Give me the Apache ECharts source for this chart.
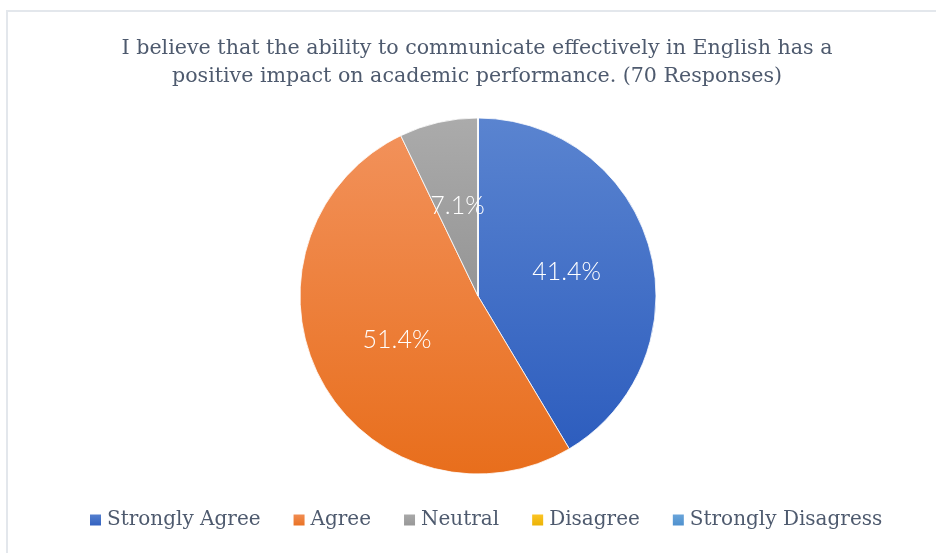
<!DOCTYPE html>
<html><head><meta charset="utf-8">
<script src="https://cdn.jsdelivr.net/npm/echarts@6/dist/echarts.min.js"></script>
<style>html,body{margin:0;padding:0;background:#fff;}#c{width:936px;height:553px;}</style>
</head><body><div id="c"></div>
<script>
const titleText = "I believe that the ability to communicate effectively in English has a\npositive impact on academic performance. (70 Responses)";
const categories = ["Strongly Agree", "Agree", "Neutral", "Disagree", "Strongly Disagress"];
const counts = [29, 36, 5, 0, 0];
const colorsTop = ["#5a84d0", "#f2915a", "#ababab", "#ffc72a", "#6ea8dc"];
const colorsBottom = ["#2d5dbe", "#e86e1c", "#959595", "#e8b000", "#4a8dcc"];

const total = counts.reduce((a, b) => a + b, 0);
const chart = echarts.init(document.getElementById('c'), null, {renderer: 'canvas'});
const grad = i => new echarts.graphic.LinearGradient(0, 0, 0, 1, [
  {offset: 0, color: colorsTop[i]}, {offset: 1, color: colorsBottom[i]}
]);
const data = categories.map((name, i) => ({
  name: name,
  value: counts[i],
  itemStyle: {color: grad(i)},
  label: {show: counts[i] > 0}
}));
const serif = 'DejaVu Serif';
chart.setOption({
  backgroundColor: '#ffffff',
  animation: false,
  graphic: [{
    type: 'rect', shape: {x: 7, y: 11, width: 960, height: 600},
    style: {fill: 'none', stroke: '#e3e7ec', lineWidth: 2}, silent: true
  }],
  title: {
    text: titleText, left: 472, top: 30, textAlign: 'center',
    textStyle: {fontFamily: serif, fontWeight: 'normal', fontSize: 20.6, color: '#4e5a6e', lineHeight: 28}
  },
  legend: {
    data: categories.map((n, i) => ({name: n, itemStyle: {color: grad(i)}})),
    bottom: 18, left: 83, icon: 'rect', itemWidth: 13, itemHeight: 13, itemGap: 31,
    textStyle: {fontFamily: serif, fontSize: 20, color: '#4e5a6e'}
  },
  series: [{
    type: 'pie', center: [478, 296], radius: 178, startAngle: 90, clockwise: true,
    itemStyle: {borderColor: '#ffffff', borderWidth: 0.8},
    label: {
      position: 'inside', color: '#ffffff', fontFamily: 'Lato', fontWeight: 300, fontSize: 25,
      formatter: p => (p.value / total * 100).toFixed(1) + '%'
    },
    labelLine: {show: false},
    emphasis: {disabled: true},
    data: data
  }]
});
</script></body></html>
